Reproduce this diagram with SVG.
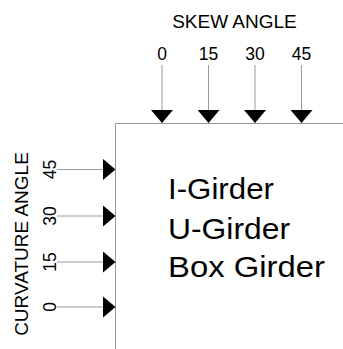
<svg xmlns="http://www.w3.org/2000/svg" width="343" height="349" viewBox="0 0 343 349">
  <style>
    text { font-family: "Liberation Sans", Arial, sans-serif; fill: #000; }
    .title { font-size: 19px; }
    .num { font-size: 17.5px; }
    .big { font-size: 30px; }
    .wire { stroke: #9a9a9a; stroke-width: 1; fill: none; }
  </style>
  <defs>
    <marker id="head" viewBox="0 0 13 22" refX="13" refY="11" markerWidth="13" markerHeight="22" markerUnits="userSpaceOnUse" orient="auto">
      <path d="M0,0 L13,11 L0,22 Z" fill="#000"/>
    </marker>
  </defs>

  <!-- frame of the matrix -->
  <g id="frame">
    <path class="wire" d="M115.5,349 V123.5 H343"/>
  </g>

  <!-- axis titles -->
  <g id="skew-title">
    <text class="title" x="234.5" y="28" text-anchor="middle">SKEW ANGLE</text>
  </g>
  <g id="curvature-title">
    <text class="title" transform="translate(28,244) rotate(-90)" text-anchor="middle">CURVATURE ANGLE</text>
  </g>

  <!-- skew angle values -->
  <g id="skew-values">
    <text class="num" x="162" y="60" text-anchor="middle">0</text>
    <text class="num" x="208.5" y="60" text-anchor="middle">15</text>
    <text class="num" x="255" y="60" text-anchor="middle">30</text>
    <text class="num" x="301.5" y="60" text-anchor="middle">45</text>
  </g>

  <!-- curvature angle values -->
  <g id="curvature-values">
    <text class="num" transform="translate(55.5,169.5) rotate(-90)" text-anchor="middle">45</text>
    <text class="num" transform="translate(55.5,216) rotate(-90)" text-anchor="middle">30</text>
    <text class="num" transform="translate(55.5,262) rotate(-90)" text-anchor="middle">15</text>
    <text class="num" transform="translate(55.5,307) rotate(-90)" text-anchor="middle">0</text>
  </g>

  <!-- girder types -->
  <g id="girders">
    <text class="big" x="168" y="199" textLength="106" lengthAdjust="spacingAndGlyphs">I-Girder</text>
    <text class="big" x="168" y="239" textLength="122" lengthAdjust="spacingAndGlyphs">U-Girder</text>
    <text class="big" x="168" y="277" textLength="157" lengthAdjust="spacingAndGlyphs">Box Girder</text>
  </g>

  <!-- arrows into the frame -->
  <g id="connectors">
    <path class="wire" d="M162,65 V123" marker-end="url(#head)"/>
    <path class="wire" d="M208.5,65 V123" marker-end="url(#head)"/>
    <path class="wire" d="M255,65 V123" marker-end="url(#head)"/>
    <path class="wire" d="M301.5,65 V123" marker-end="url(#head)"/>
    <path class="wire" d="M57,169.5 H115.5" marker-end="url(#head)"/>
    <path class="wire" d="M57,216 H115.5" marker-end="url(#head)"/>
    <path class="wire" d="M57,262 H115.5" marker-end="url(#head)"/>
    <path class="wire" d="M57,307 H115.5" marker-end="url(#head)"/>
  </g>
</svg>
